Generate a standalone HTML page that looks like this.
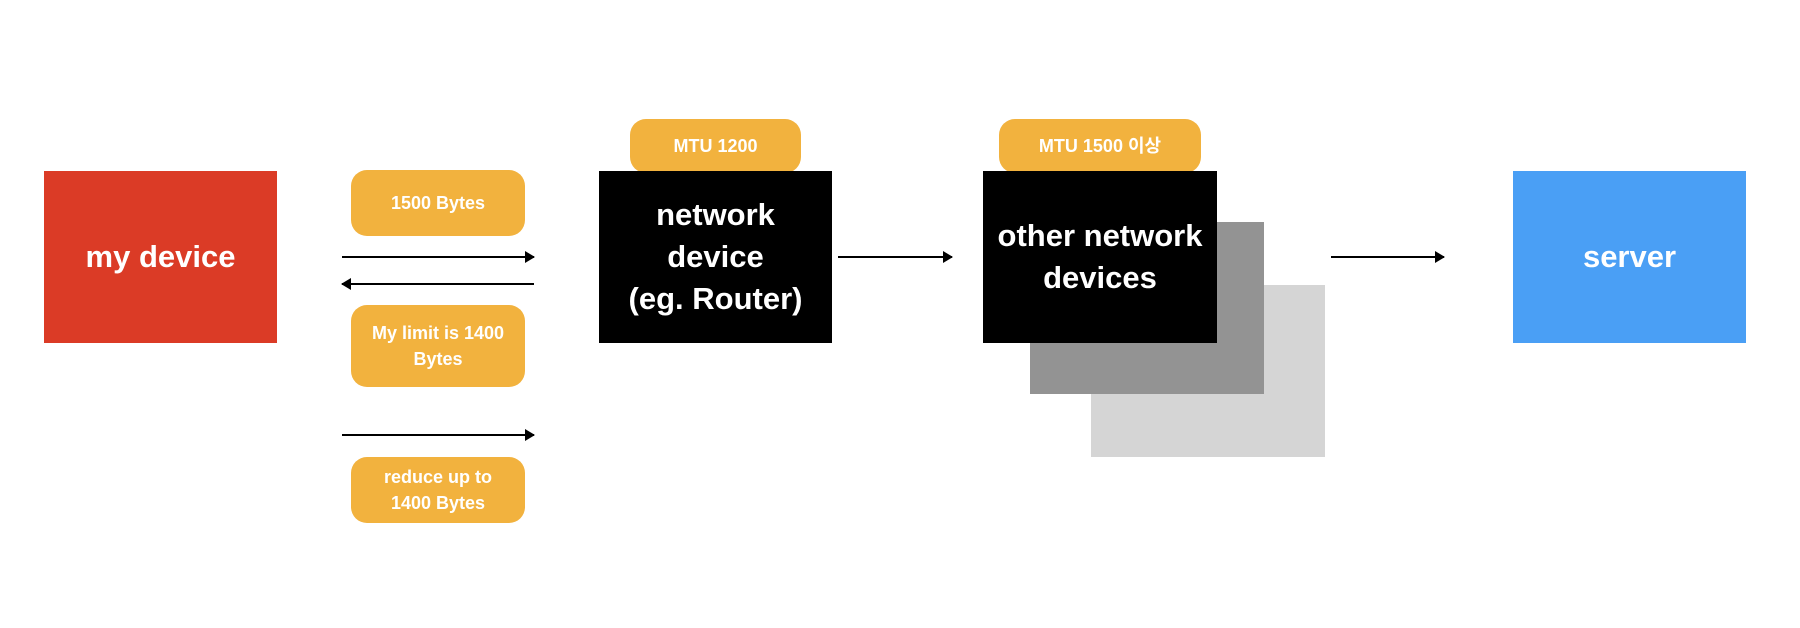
<!DOCTYPE html>
<html><head><meta charset="utf-8"><style>
body{margin:0;width:1800px;height:628px;background:#fff;position:relative;overflow:hidden;font-family:"Liberation Sans","Noto Sans CJK KR",sans-serif;font-weight:bold;color:#fff}
.b{position:absolute;display:flex;align-items:center;justify-content:center;text-align:center}
.box{font-size:31px;line-height:42px}
.pill{background:#F2B23E;border-radius:16px;font-size:18px;line-height:26px}
.ar{position:absolute;height:2px;background:#000}
.ar.r::after{content:"";position:absolute;right:-1px;top:-5px;border-left:10px solid #000;border-top:6px solid transparent;border-bottom:6px solid transparent}
.ar.l::before{content:"";position:absolute;left:-1px;top:-5px;border-right:10px solid #000;border-top:6px solid transparent;border-bottom:6px solid transparent}
</style></head><body>
<div class="b box" style="left:44px;top:171px;width:233px;height:172px;background:#DB3B26">my device</div>
<div class="b pill" style="left:351px;top:170px;width:174px;height:66px">1500 Bytes</div>
<div class="ar r" style="left:342px;top:256px;width:192px"></div>
<div class="ar l" style="left:342px;top:283px;width:192px"></div>
<div class="b pill" style="left:351px;top:305px;width:174px;height:82px">My limit is 1400<br>Bytes</div>
<div class="ar r" style="left:342px;top:434px;width:192px"></div>
<div class="b pill" style="left:351px;top:457px;width:174px;height:66px">reduce up to<br>1400 Bytes</div>
<div class="b pill" style="left:630px;top:119px;width:171px;height:54px">MTU 1200</div>
<div class="b box" style="left:599px;top:171px;width:233px;height:172px;background:#000">network<br>device<br>(eg. Router)</div>
<div class="ar r" style="left:838px;top:256px;width:114px"></div>
<div class="b" style="left:1091px;top:285px;width:234px;height:172px;background:#D5D5D5"></div>
<div class="b" style="left:1030px;top:222px;width:234px;height:172px;background:#939393"></div>
<div class="b pill" style="left:999px;top:119px;width:202px;height:54px">MTU 1500 이상</div>
<div class="b box" style="left:983px;top:171px;width:234px;height:172px;background:#000;align-items:flex-start"><div style="margin-top:44px">other network<br>devices</div></div>
<div class="ar r" style="left:1331px;top:256px;width:113px"></div>
<div class="b box" style="left:1513px;top:171px;width:233px;height:172px;background:#4A9FF5">server</div>
</body></html>
